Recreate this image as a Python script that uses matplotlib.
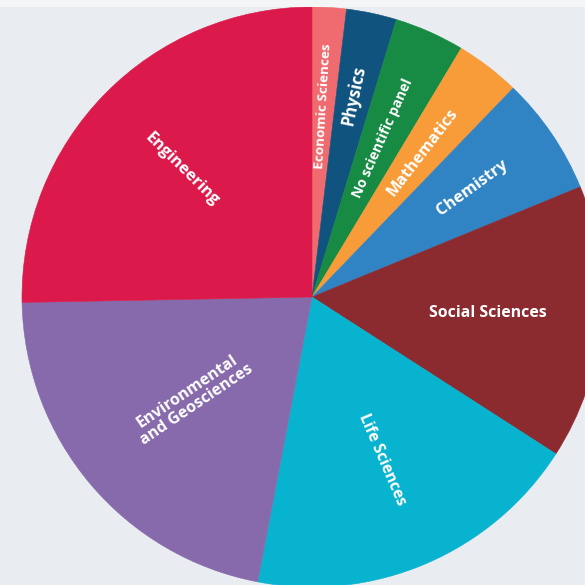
import numpy as np
import matplotlib
matplotlib.use("Agg")
from matplotlib import pyplot as plt
from matplotlib.patches import Rectangle

# shares (%) read clockwise from 12 o'clock
labels = ["Economic Sciences", "Physics", "No scientific panel", "Mathematics",
          "Chemistry", "Social Sciences", "Life Sciences",
          "Environmental\nand Geosciences", "Engineering"]
shares = [1.9, 2.8, 3.9, 3.6, 6.6, 15.3, 18.9, 21.7, 25.3]
colors = ["#f06b6f", "#10537f", "#178a43", "#f79c38", "#3184c4",
          "#8b2a2f", "#07b3cf", "#876aab", "#db1a4b"]

# label placement (fraction of radius) and font size per slice
label_r = [0.66, 0.71, 0.60, 0.63, 0.67, 0.61, 0.61, 0.54, 0.63]
label_fs = [9.7, 12, 10, 11.6, 11.8, 11.4, 11.2, 11.5, 11.8]
# a few labels are not exactly radial in the original
rot_override = {"Social Sciences": 0, "Environmental\nand Geosciences": 34,
                "Chemistry": 36}

plt.rcParams['font.family'] = ['Open Sans', 'DejaVu Sans']

dpi = 100
fig = plt.figure(figsize=(585 / dpi, 585 / dpi), dpi=dpi)
fig.patch.set_facecolor("#e9edf2")
# lighter strip at the very top
fig.patches.append(Rectangle((0, 1 - 7 / 585), 1, 7 / 585, transform=fig.transFigure,
                             facecolor="#f4f5f7", edgecolor="none", zorder=0))

ax = fig.add_axes([0, 0, 1, 1])
ax.axis('off')

# centre of the pie at (312, 297) px, radius 290 px
R = 290.0
cx, cy = 312.0, 297.0

wedges, _ = ax.pie(shares, colors=colors, startangle=90, counterclock=False,
                   radius=1, wedgeprops=dict(linewidth=0))
for w in wedges:
    w.set_edgecolor(w.get_facecolor())
    w.set_linewidth(0.4)

ax.set_xlim(-cx / R, (585 - cx) / R)
ax.set_ylim(-(585 - cy) / R, cy / R)
ax.set_aspect('equal')

for w, lab, r, fs in zip(wedges, labels, label_r, label_fs):
    mid = (w.theta1 + w.theta2) / 2.0
    x = r * np.cos(np.radians(mid))
    y = r * np.sin(np.radians(mid))
    rot = (mid + 180) % 360 - 180
    if rot > 90:
        rot -= 180
    elif rot < -90:
        rot += 180
    rot = rot_override.get(lab, rot)
    ax.text(x, y, lab, color="white", fontsize=fs, fontweight='bold',
            rotation=rot, rotation_mode='anchor', ha='center', va='center',
            linespacing=1.0)

fig.savefig("out.png", dpi=dpi, facecolor=fig.get_facecolor())
